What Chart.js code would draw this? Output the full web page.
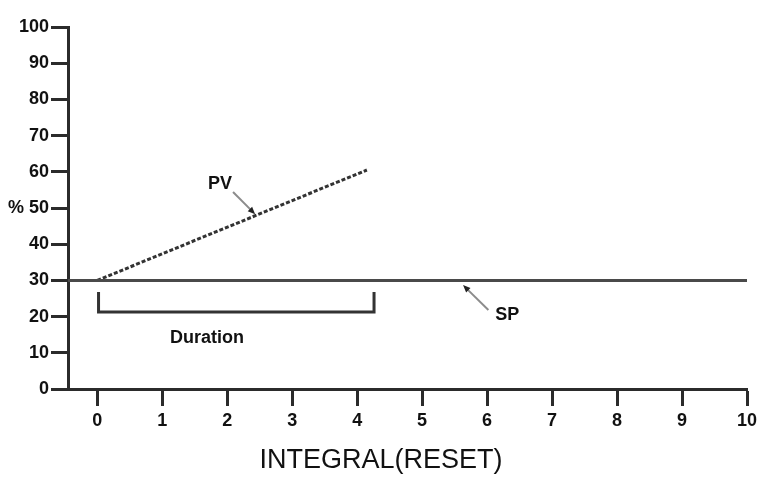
<!DOCTYPE html>
<html>
<head>
<meta charset="utf-8">
<script src="https://cdn.jsdelivr.net/npm/chart.js@4.4.0/dist/chart.umd.min.js"></script>
<style>
  html, body { margin: 0; padding: 0; background: #fff; }
  #wrap { width: 762px; height: 479px; }
</style>
</head>
<body>
<div id="wrap"><canvas id="resetChart"></canvas></div>
<script>
const xTicks = [0, 1, 2, 3, 4, 5, 6, 7, 8, 9, 10];
const yTicks = [0, 10, 20, 30, 40, 50, 60, 70, 80, 90, 100];

// setpoint and process variable
const spX = [-0.45, 10];
const spY = [30, 30];
const pvX = [0, 4.15];
const pvY = [30, 60.5];

// bracket under the SP line
const durationX = [0.02, 0.02, 4.26, 4.26];
const durationY = [26.8, 21.3, 21.3, 26.8];

// text notes and their pointer arrows (data units)
const noteText = ['PV', 'SP', 'Duration'];
const noteX = [1.89, 6.31, 1.69];
const noteY = [56.6, 20.4, 14.1];
const arrowFromX = [2.09, 6.02];
const arrowFromY = [54.4, 21.8];
const arrowToX = [2.43, 5.63];
const arrowToY = [48.3, 28.7];

const FONT = 'Liberation Sans, Arial, sans-serif';
const INK = '#2b2b2b';

const toPoints = (xs, ys) => xs.map((x, i) => ({ x: x, y: ys[i] }));

const notesPlugin = {
    id: 'notes',
    afterDatasetsDraw(chart) {
        const ctx = chart.ctx;
        const xs = chart.scales.x, ys = chart.scales.y;
        ctx.save();
        for (let i = 0; i < arrowFromX.length; i++) {
            const x1 = xs.getPixelForValue(arrowFromX[i]), y1 = ys.getPixelForValue(arrowFromY[i]);
            const x2 = xs.getPixelForValue(arrowToX[i]), y2 = ys.getPixelForValue(arrowToY[i]);
            const a = Math.atan2(y2 - y1, x2 - x1);
            ctx.strokeStyle = '#8c8c8c';
            ctx.lineWidth = 2;
            ctx.beginPath();
            ctx.moveTo(x1, y1);
            ctx.lineTo(x2 - 5 * Math.cos(a), y2 - 5 * Math.sin(a));
            ctx.stroke();
            ctx.fillStyle = '#222';
            ctx.beginPath();
            ctx.moveTo(x2, y2);
            ctx.lineTo(x2 - 8 * Math.cos(a - 0.4), y2 - 8 * Math.sin(a - 0.4));
            ctx.lineTo(x2 - 8 * Math.cos(a + 0.4), y2 - 8 * Math.sin(a + 0.4));
            ctx.closePath();
            ctx.fill();
        }
        ctx.fillStyle = '#111';
        ctx.textAlign = 'center';
        ctx.textBaseline = 'middle';
        ctx.font = 'bold 18px ' + FONT;
        noteText.forEach((t, i) => {
            ctx.fillText(t, xs.getPixelForValue(noteX[i]), ys.getPixelForValue(noteY[i]));
        });
        ctx.restore();
    }
};

new Chart(document.getElementById('resetChart'), {
    type: 'scatter',
    data: {
        datasets: [{
            data: toPoints(spX, spY),
            showLine: true,
            borderColor: '#4a4a4a',
            borderWidth: 3,
            pointRadius: 0
        }, {
            data: toPoints(pvX, pvY),
            showLine: true,
            borderColor: '#333',
            borderWidth: 3,
            borderDash: [4, 2],
            pointRadius: 0
        }, {
            data: toPoints(durationX, durationY),
            showLine: true,
            borderColor: '#333',
            borderWidth: 3,
            pointRadius: 0
        }]
    },
    options: {
        responsive: true,
        maintainAspectRatio: false,
        animation: false,
        layout: { padding: { top: 27 } },
        plugins: {
            legend: { display: false },
            tooltip: { enabled: false },
            title: {
                display: true,
                text: 'INTEGRAL(RESET)',
                position: 'bottom',
                color: '#111',
                font: { family: FONT, size: 27, weight: 'normal' },
                padding: { top: 0, bottom: 2 }
            }
        },
        scales: {
            x: {
                type: 'linear',
                min: -0.45,
                max: 10,
                afterBuildTicks: s => { s.ticks = xTicks.map(v => ({ value: v })); },
                afterFit: s => { s.height = 479 - 389 - 34.4; s.paddingLeft = 0; s.paddingRight = 15; },
                border: { color: INK, width: 3 },
                grid: { drawOnChartArea: false, drawTicks: true, tickLength: 17, tickWidth: 3, tickColor: INK },
                ticks: {
                    padding: 4,
                    color: '#111',
                    font: { family: FONT, size: 18, weight: 'bold' }
                }
            },
            y: {
                type: 'linear',
                min: 0,
                max: 100,
                afterBuildTicks: s => { s.ticks = yTicks.map(v => ({ value: v })); },
                afterFit: s => { s.width = 68; s.paddingTop = 0; s.paddingBottom = 0; },
                border: { color: INK, width: 3 },
                grid: { drawOnChartArea: false, drawTicks: true, tickLength: 17, tickWidth: 3, tickColor: INK },
                ticks: {
                    padding: 2,
                    color: '#111',
                    font: { family: FONT, size: 18, weight: 'bold' },
                    callback: v => (v === 50 ? '% 50' : v)
                }
            }
        }
    },
    plugins: [notesPlugin]
});
</script>
</body>
</html>
